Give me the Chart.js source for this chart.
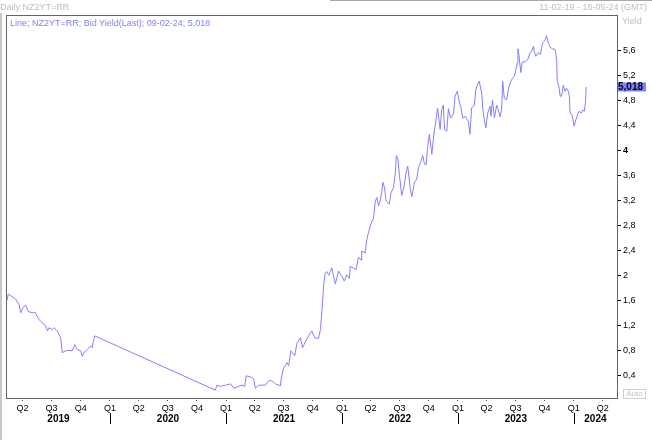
<!DOCTYPE html>
<html>
<head>
<meta charset="utf-8">
<script src="https://cdn.jsdelivr.net/npm/chart.js@4.4.1/dist/chart.umd.min.js"></script>
<style>
  html, body { margin: 0; padding: 0; background: #fff; }
  #wrap { position: relative; width: 652px; height: 440px; overflow: hidden; font-family: "Liberation Sans", Arial, sans-serif; }
  canvas { position: absolute; left: 0; top: 0; }
  .t { position: absolute; font-size: 9px; line-height: 11px; white-space: nowrap; }
</style>
</head>
<body>
<div id="wrap">
  <canvas id="yieldChart" width="652" height="440"></canvas>
  <div style="position:absolute;left:0;top:13px;width:2px;height:427px;background:#c8c8c8"></div>
  <div style="position:absolute;left:330px;top:0;width:322px;height:1px;background:#a8a8a8"></div>
  <div class="t" style="left:0;top:2px;color:#bdbdbd">Daily NZ2YT=RR</div>
  <div class="t" style="right:5px;top:2px;color:#bdbdbd">11-02-19 - 16-05-24 (GMT)</div>
  <div class="t" style="left:622px;top:16px;color:#bdbdbd">Yield</div>
  <div class="t" style="left:10px;top:18px;color:#8080ff">Line; NZ2YT=RR; Bid Yield(Last); 09-02-24; 5,018</div>
  <div class="t" style="left:623px;top:389px;width:21px;height:8px;line-height:8px;font-size:8px;border:1px solid #cfcfcf;color:#c4c4c4;text-align:center">Auto</div>
</div>
<script>
// daily NZ 2y yield
const dates = [
  '2019-02-11', '2019-02-15', '2019-03-10', '2019-03-21', '2019-03-26', '2019-04-02', '2019-04-11', '2019-04-19',
  '2019-05-02', '2019-05-10', '2019-05-23', '2019-06-02', '2019-06-13', '2019-06-18', '2019-06-23', '2019-07-03',
  '2019-07-09', '2019-07-19', '2019-07-30', '2019-08-04', '2019-08-15', '2019-08-25', '2019-09-04', '2019-09-13',
  '2019-09-20', '2019-10-01', '2019-10-06', '2019-10-11', '2019-10-22', '2019-11-01', '2019-11-06', '2019-11-14',
  '2020-11-28', '2020-12-03', '2020-12-14', '2020-12-30', '2021-01-15', '2021-01-25', '2021-02-04', '2021-02-20',
  '2021-03-01', '2021-03-05', '2021-03-19', '2021-03-29', '2021-04-03', '2021-04-14', '2021-05-05', '2021-05-15',
  '2021-05-25', '2021-06-05', '2021-06-21', '2021-06-24', '2021-07-01', '2021-07-12', '2021-07-17', '2021-07-24',
  '2021-08-05', '2021-08-12', '2021-08-23', '2021-08-30', '2021-09-07', '2021-09-18', '2021-09-28', '2021-10-07',
  '2021-10-19', '2021-10-25', '2021-10-30', '2021-11-04', '2021-11-09', '2021-11-14', '2021-11-20', '2021-11-30',
  '2021-12-11', '2021-12-21', '2021-12-31', '2022-01-08', '2022-01-16', '2022-01-24', '2022-01-27', '2022-02-06',
  '2022-02-14', '2022-02-22', '2022-03-03', '2022-03-04', '2022-03-15', '2022-03-20', '2022-03-26', '2022-04-03',
  '2022-04-10', '2022-04-16', '2022-04-21', '2022-04-26', '2022-05-01', '2022-05-06', '2022-05-10', '2022-05-15',
  '2022-05-20', '2022-05-30', '2022-06-04', '2022-06-12', '2022-06-18', '2022-06-21', '2022-06-26', '2022-07-01',
  '2022-07-08', '2022-07-16', '2022-07-22', '2022-07-27', '2022-08-04', '2022-08-09', '2022-08-17', '2022-08-24',
  '2022-08-30', '2022-09-07', '2022-09-12', '2022-09-18', '2022-09-23', '2022-09-27', '2022-10-03', '2022-10-11',
  '2022-10-16', '2022-10-21', '2022-10-29', '2022-11-06', '2022-11-11', '2022-11-16', '2022-11-20', '2022-11-27',
  '2022-12-02', '2022-12-09', '2022-12-18', '2022-12-23', '2022-12-30', '2023-01-05', '2023-01-11', '2023-01-16',
  '2023-01-24', '2023-01-29', '2023-02-03', '2023-02-08', '2023-02-13', '2023-02-22', '2023-02-26', '2023-03-03',
  '2023-03-09', '2023-03-17', '2023-03-20', '2023-03-25', '2023-03-30', '2023-04-05', '2023-04-12', '2023-04-15',
  '2023-04-20', '2023-04-26', '2023-05-03', '2023-05-08', '2023-05-14', '2023-05-19', '2023-05-22', '2023-05-27',
  '2023-06-03', '2023-06-11', '2023-06-17', '2023-06-22', '2023-06-28', '2023-07-02', '2023-07-07', '2023-07-09',
  '2023-07-12', '2023-07-18', '2023-07-23', '2023-07-31', '2023-08-09', '2023-08-16', '2023-08-21', '2023-08-27',
  '2023-08-30', '2023-09-04', '2023-09-11', '2023-09-18', '2023-09-24', '2023-09-30', '2023-10-05', '2023-10-07',
  '2023-10-13', '2023-10-18', '2023-10-25', '2023-11-03', '2023-11-08', '2023-11-10', '2023-11-15', '2023-11-19',
  '2023-11-23', '2023-11-29', '2023-12-04', '2023-12-09', '2023-12-15', '2023-12-18', '2023-12-20', '2023-12-26',
  '2023-12-29', '2024-01-02', '2024-01-08', '2024-01-13', '2024-01-18', '2024-01-24', '2024-01-29', '2024-02-03',
  '2024-02-07', '2024-02-09'
];
const yields = [
  1.60, 1.70, 1.62, 1.53, 1.40, 1.48, 1.52, 1.42,
  1.40, 1.41, 1.29, 1.24, 1.19, 1.11, 1.16, 1.13,
  1.16, 1.11, 1.00, 0.76, 0.79, 0.80, 0.79, 0.89,
  0.81, 0.79, 0.70, 0.76, 0.81, 0.87, 0.84, 1.03,
  0.16, 0.24, 0.22, 0.24, 0.26, 0.19, 0.21, 0.24,
  0.22, 0.39, 0.37, 0.34, 0.19, 0.24, 0.24, 0.31,
  0.31, 0.26, 0.23, 0.36, 0.51, 0.60, 0.55, 0.79,
  0.71, 0.91, 1.00, 0.84, 0.93, 1.03, 1.11, 1.00,
  0.99, 1.13, 1.45, 1.83, 2.04, 2.06, 2.00, 2.12,
  1.86, 2.07, 1.99, 1.91, 2.01, 1.95, 2.14, 2.12,
  2.09, 2.29, 2.24, 2.39, 2.36, 2.57, 2.70, 2.84,
  2.91, 3.19, 3.25, 3.11, 3.19, 3.34, 3.49, 3.40,
  3.19, 3.14, 3.32, 3.40, 3.64, 3.92, 3.86, 3.60,
  3.28, 3.44, 3.65, 3.75, 3.38, 3.26, 3.49, 3.54,
  3.73, 3.83, 3.92, 3.78, 3.77, 4.02, 4.26, 3.94,
  4.20, 4.39, 4.68, 4.34, 4.65, 4.73, 4.34, 4.31,
  4.67, 4.52, 4.59, 4.87, 4.95, 4.79, 4.68, 4.52,
  4.55, 4.50, 4.47, 4.26, 4.68, 4.73, 4.97, 5.05,
  5.11, 4.92, 4.68, 4.50, 4.36, 4.60, 4.71, 4.55,
  4.81, 4.52, 4.73, 4.65, 4.54, 4.68, 5.11, 4.84,
  4.81, 5.03, 5.11, 5.16, 5.19, 5.29, 5.40, 5.63,
  5.54, 5.25, 5.42, 5.42, 5.46, 5.57, 5.59, 5.67,
  5.57, 5.51, 5.57, 5.54, 5.72, 5.75, 5.80, 5.84,
  5.72, 5.66, 5.63, 5.62, 5.46, 5.11, 5.03, 4.87,
  4.87, 5.05, 4.95, 5.00, 4.95, 4.87, 4.60, 4.58,
  4.50, 4.39, 4.50, 4.58, 4.63, 4.60, 4.65, 4.63,
  4.79, 5.018
];

const quarterTicks = [
  '2019-04-01', '2019-07-01', '2019-10-01',
  '2020-01-01', '2020-04-01', '2020-07-01', '2020-10-01',
  '2021-01-01', '2021-04-01', '2021-07-01', '2021-10-01',
  '2022-01-01', '2022-04-01', '2022-07-01', '2022-10-01',
  '2023-01-01', '2023-04-01', '2023-07-01', '2023-10-01',
  '2024-01-01', '2024-04-01'
];
const quarterLabels = [
  'Q2', 'Q3', 'Q4',
  'Q1', 'Q2', 'Q3', 'Q4',
  'Q1', 'Q2', 'Q3', 'Q4',
  'Q1', 'Q2', 'Q3', 'Q4',
  'Q1', 'Q2', 'Q3', 'Q4',
  'Q1', 'Q2'
];
const years = [2019, 2020, 2021, 2022, 2023, 2024];
const yTicks = [0.4, 0.8, 1.2, 1.6, 2, 2.4, 2.8, 3.2, 3.6, 4, 4.4, 4.8, 5.2, 5.6];

const xStart = '2019-02-11';
const xEnd = '2024-05-16';
const lastValue = 5.018;

// frame, year row and last-value tag
const extras = {
  id: 'extras',
  afterDraw(chart) {
    const { ctx, chartArea: a, scales: { x, y } } = chart;
    ctx.save();
    ctx.strokeStyle = '#646464';
    ctx.lineWidth = 1;
    ctx.strokeRect(a.left - 0.5, a.top - 0.5, a.right - a.left + 1, a.bottom - a.top + 1);

    ctx.font = 'bold 10px "Liberation Sans"';
    ctx.fillStyle = '#000';
    ctx.strokeStyle = '#000';
    ctx.textAlign = 'center';
    ctx.textBaseline = 'alphabetic';
    years.forEach(yr => {
      const start = Date.UTC(yr, 0, 1);
      const s = Math.max(start, x.min);
      const e = Math.min(Date.UTC(yr + 1, 0, 1), x.max);
      const cx = (x.getPixelForValue(s) + x.getPixelForValue(e)) / 2;
      ctx.fillText(String(yr), cx, 422);
      if (start > x.min) {
        const px = Math.round(x.getPixelForValue(start)) + 0.5;
        ctx.beginPath();
        ctx.moveTo(px, 413);
        ctx.lineTo(px, 424);
        ctx.stroke();
      }
    });

    const vy = y.getPixelForValue(lastValue);
    ctx.fillStyle = '#8080ff';
    ctx.fillRect(a.right + 1, Math.round(vy) - 4.5, 28, 9);
    ctx.fillStyle = '#000';
    ctx.textAlign = 'left';
    ctx.textBaseline = 'middle';
    ctx.fillText(String(lastValue).replace('.', ','), a.right + 1, vy + 0.5);
    ctx.restore();
  }
};

new Chart(document.getElementById('yieldChart'), {
  type: 'line',
  data: {
    datasets: [{
      label: 'NZ2YT=RR',
      data: dates.map((d, i) => ({ x: Date.parse(d), y: yields[i] })),
      borderColor: '#8080ff',
      borderWidth: 1,
      pointRadius: 0,
      tension: 0,
      fill: false
    }]
  },
  options: {
    responsive: false,
    animation: false,
    devicePixelRatio: 1,
    layout: { padding: { left: 7, top: 16, right: 0, bottom: 0 } },
    plugins: {
      legend: { display: false },
      tooltip: { enabled: false }
    },
    scales: {
      x: {
        type: 'linear',
        min: Date.parse(xStart),
        max: Date.parse(xEnd),
        afterBuildTicks: s => { s.ticks = quarterTicks.map(d => ({ value: Date.parse(d) })); },
        afterFit: s => { s.height = 42; },
        border: { display: false },
        grid: { drawOnChartArea: false, tickLength: 4, color: '#404040', tickBorderDash: [1, 1] },
        ticks: {
          autoSkip: false,
          maxRotation: 0,
          padding: 1,
          color: '#000',
          font: { family: 'Liberation Sans', size: 9 },
          callback: (v, i) => quarterLabels[i]
        }
      },
      y: {
        position: 'right',
        min: 0.034,
        max: 6.156,
        afterBuildTicks: s => { s.ticks = yTicks.map(v => ({ value: v })); },
        afterFit: s => { s.width = 35; },
        border: { display: false },
        grid: { drawOnChartArea: false, tickLength: 4, color: '#000' },
        ticks: {
          padding: 2,
          color: '#000',
          font: c => ({ family: 'Liberation Sans', size: 9, weight: (c.tick && c.tick.value === 4) ? 'bold' : 'normal' }),
          callback: v => String(v).replace('.', ',')
        }
      }
    }
  },
  plugins: [extras]
});
</script>
</body>
</html>
